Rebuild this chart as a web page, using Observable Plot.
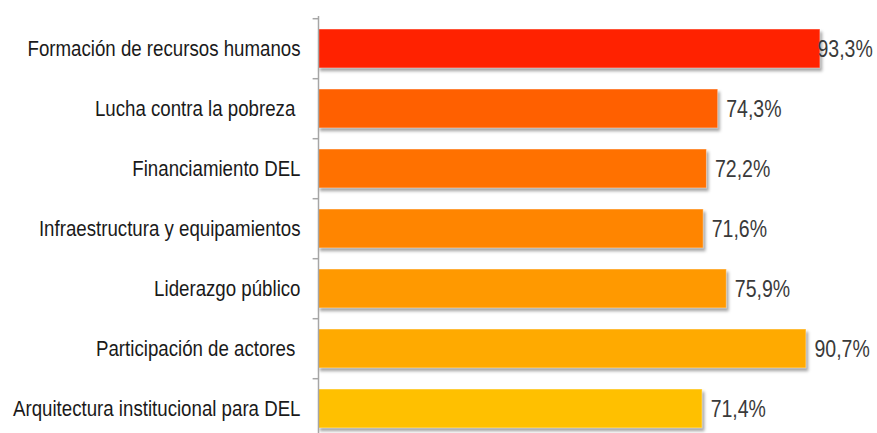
<!DOCTYPE html>
<html><head><meta charset="utf-8">
<script src="https://cdn.jsdelivr.net/npm/d3@7"></script>
<script src="https://cdn.jsdelivr.net/npm/@observablehq/plot@0.6"></script>
<style>
html,body{margin:0;padding:0;background:#fff;overflow:hidden}
.bars rect{filter: drop-shadow(2px 3px 1.5px rgba(0,0,0,0.35));}
</style></head><body><div id="chart"></div>
<script>
const categories = [
  "Formación de recursos humanos",
  "Lucha contra la pobreza\u00a0",
  "Financiamiento DEL",
  "Infraestructura y equipamientos",
  "Liderazgo público",
  "Participación de actores\u00a0",
  "Arquitectura institucional para DEL"
];
const values = [93.3, 74.3, 72.2, 71.6, 75.9, 90.7, 71.4];
const valueLabels = ["93,3%", "74,3%", "72,2%", "71,6%", "75,9%", "90,7%", "71,4%"];
const colors = ["#FF2200", "#FF6000", "#FF7100", "#FF8500", "#FF9900", "#FFAA00", "#FFC000"];

const data = categories.map((c, i) => ({category: c, value: values[i], label: valueLabels[i], color: colors[i]}));
const maxV = d3.max(values);

const W = 877, H = 440, MT = 16, MB = 0;
const step = (H - MT - MB) / categories.length;

const chart = Plot.plot({
  width: W, height: H,
  marginTop: MT, marginBottom: MB, marginLeft: 318, marginRight: 21,
  style: {fontFamily: "'Liberation Sans', Arial, sans-serif", background: "#fff", overflow: "visible"},
  x: {domain: [0, 100], axis: null},
  y: {domain: categories, paddingInner: 0.35, paddingOuter: 0.175, axis: null},
  marks: [
    Plot.barX(data, {y: "category", x: "value", fill: "color", stroke: "#ffffff", strokeOpacity: 0.45, strokeWidth: 1, className: "bars"}),
    Plot.ruleX([0], {stroke: "#a6a6a6", strokeWidth: 1.5}),
    Plot.ruleY(data, {y: "category", x1: -1, x2: 0, dy: -step / 2, stroke: "#a6a6a6", strokeWidth: 1.5}),
    Plot.axisY({tickSize: 0, tickPadding: 18, fontSize: 22.5, color: "#1a1a1a", label: null, className: "cats"}),
    Plot.text(data.filter(d => d.value !== maxV), {x: "value", y: "category", text: "label", textAnchor: "start", dx: 8, fontSize: 23.5, fill: "#3a3a3a", className: "vals"}),
    Plot.text(data.filter(d => d.value === maxV), {x: "value", y: "category", text: "label", textAnchor: "start", dx: -3, fontSize: 23.5, fill: "#3a3a3a", className: "vals"})
  ]
});
document.getElementById("chart").appendChild(chart);
// condense the glyphs to mimic a narrow typeface
chart.querySelectorAll(".cats text, .vals text").forEach(t => {
  const len = t.getComputedTextLength();
  t.setAttribute("textLength", (len * 0.83).toFixed(1));
  t.setAttribute("lengthAdjust", "spacingAndGlyphs");
});
</script></body></html>
